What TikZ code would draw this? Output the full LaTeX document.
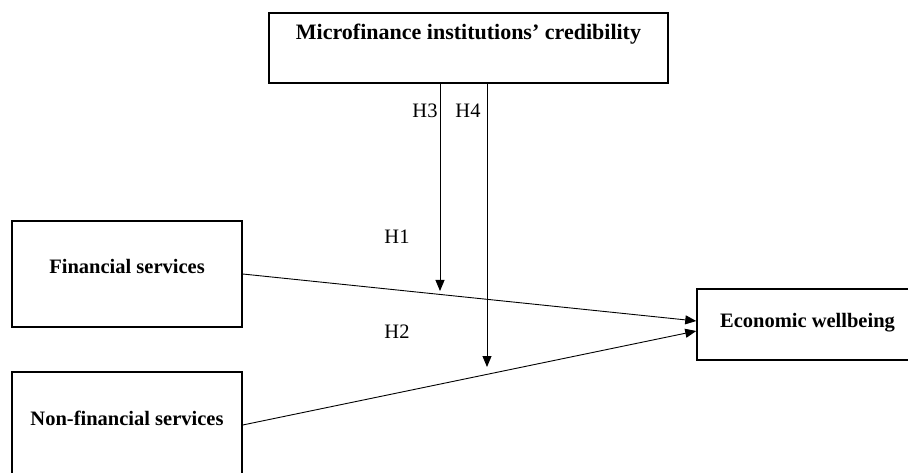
\documentclass[tikz,border=0pt]{standalone}
\usepackage{fontspec}
\setmainfont{Liberation Serif}
\usetikzlibrary{arrows.meta}

\begin{document}
\begin{tikzpicture}[x=1pt,y=-1pt,
    box/.style={draw,line width=1.5pt,inner sep=0pt,align=center,
        font=\fontsize{20.5}{24}\selectfont\bfseries},
    hyp/.style={inner sep=0pt,font=\fontsize{20.5}{24}\selectfont},
    link/.style={line width=0.9pt,-{Triangle[length=11pt,width=9pt]}}]

\useasboundingbox (0,0) rectangle (908,473);

\node[box,minimum width=399pt,text height=27pt,text depth=43pt,
    font=\fontsize{22}{26}\selectfont\bfseries] (cred) at (468.5,48) {Microfinance institutions’ credibility};
\node[box,minimum width=230pt,text height=52pt,text depth=54pt] (fin) at (127,274) {Financial services};
\node[box,minimum width=230pt,text height=53pt,text depth=53pt] (nonfin) at (127,425) {Non-financial services};
\node[box,minimum width=221pt,text height=38pt,text depth=33pt] (econ) at (807.5,324.5) {Economic wellbeing};

\coordinate (t3) at (440,291);
\coordinate (t4) at (487,367);

\draw[link] (fin.east) -- ([yshift=3.5pt]econ.west);
\draw[link] (nonfin.east) -- ([yshift=-6.5pt]econ.west);
\draw[link] (cred.south -| t3) -- (t3);
\draw[link] (cred.south -| t4) -- (t4);

\foreach \name/\txt/\x/\y in {h3/H3/425/110.5, h4/H4/468/110.5, h1/H1/397/237, h2/H2/397/332} {
    \node[hyp] (\name) at (\x,\y) {\txt};
}
\end{tikzpicture}
\end{document}
